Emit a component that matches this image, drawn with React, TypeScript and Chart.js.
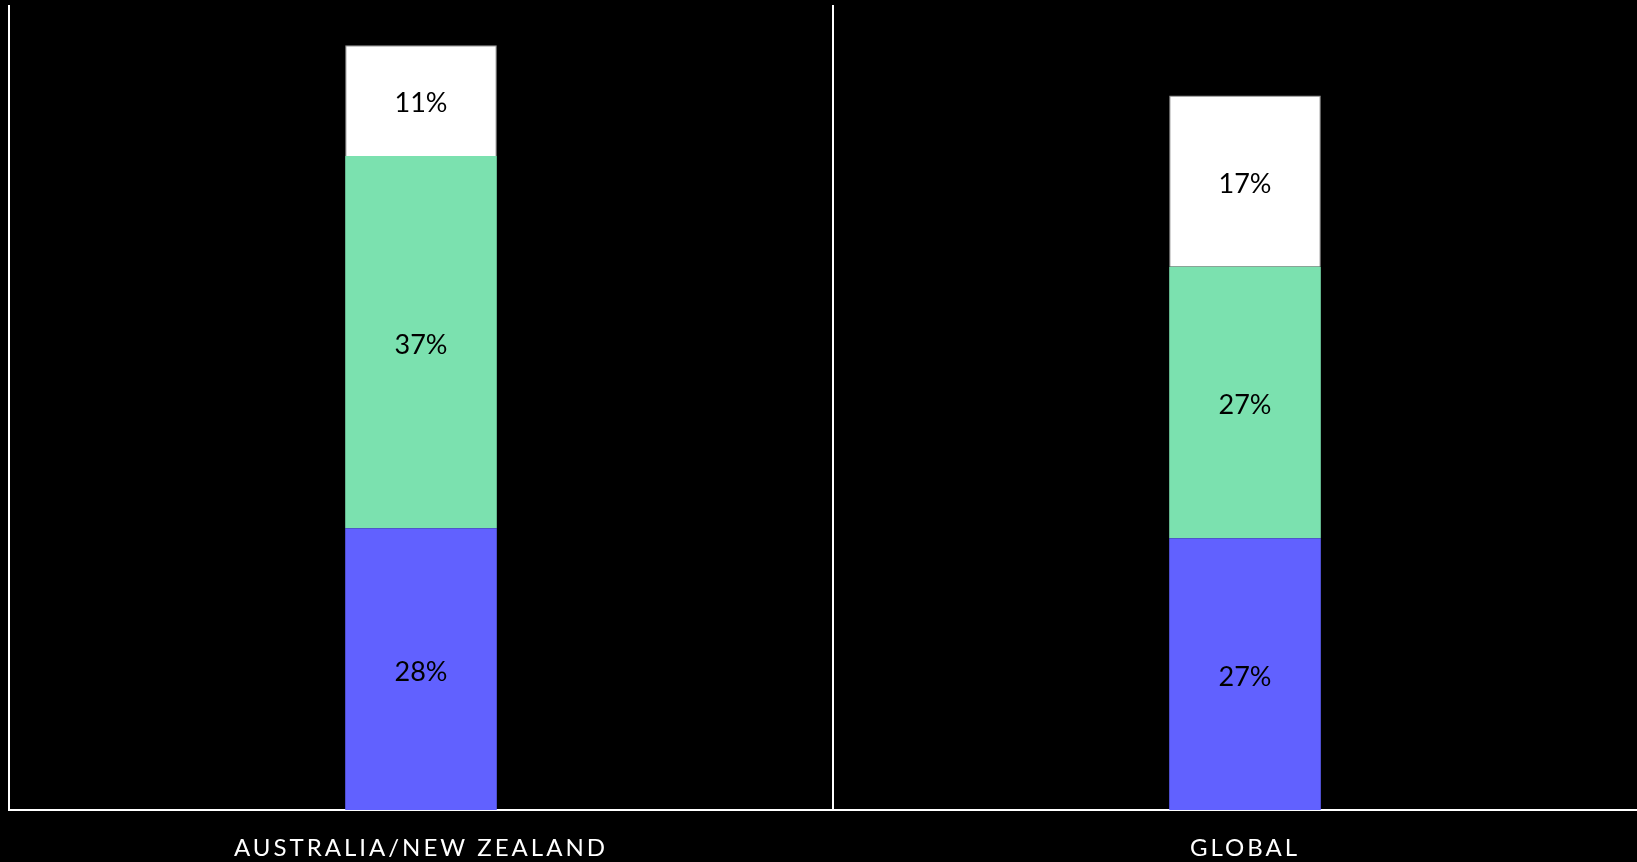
import React, { useEffect, useRef } from 'react';
import { Chart, registerables } from 'chart.js';

Chart.register(...registerables);

const categories = ['AUSTRALIA/NEW ZEALAND', 'GLOBAL'];
const bottomSeries = [28, 27];
const middleSeries = [37, 27];
const topSeries = [11, 17];
const seriesNames = ['Segment 1', 'Segment 2', 'Segment 3'];
const seriesColors = ['#6161FF', '#7BE1AF', '#FFFFFF'];
const yMax = 80;

const valueLabels = {
  id: 'valueLabels',
  afterDatasetsDraw(chart: any) {
    const ctx = chart.ctx;
    ctx.save();
    ctx.letterSpacing = '0px';
    ctx.font = '27px Lato';
    ctx.fillStyle = '#000000';
    ctx.textAlign = 'center';
    ctx.textBaseline = 'middle';
    chart.data.datasets.forEach((ds: any, i: number) => {
      const meta = chart.getDatasetMeta(i);
      meta.data.forEach((bar: any, j: number) => {
        const { x, y, base } = bar.getProps(['x', 'y', 'base'], true);
        ctx.fillText(ds.data[j] + '%', x, (y + base) / 2 + 3);
      });
    });
    ctx.restore();
  },
};

const tickSpacing = {
  id: 'tickSpacing',
  beforeDraw(chart: any) {
    chart.ctx.letterSpacing = '3px';
  },
  beforeDatasetsDraw(chart: any) {
    chart.ctx.letterSpacing = '0px';
  },
};

export default function App() {
  const ref = useRef<HTMLCanvasElement>(null);

  useEffect(() => {
    if (!ref.current) return;
    const chart = new Chart(ref.current, {
      type: 'bar',
      data: {
        labels: categories,
        datasets: [
          { label: seriesNames[0], data: bottomSeries, backgroundColor: seriesColors[0], borderWidth: 0 },
          { label: seriesNames[1], data: middleSeries, backgroundColor: seriesColors[1], borderWidth: 0 },
          { label: seriesNames[2], data: topSeries, backgroundColor: seriesColors[2], borderWidth: 1, borderColor: '#9a9a9a' },
        ],
      },
      options: {
        animation: false,
        responsive: false,
        maintainAspectRatio: false,
        devicePixelRatio: 1,
        datasets: { bar: { barPercentage: 0.184, categoryPercentage: 1 } },
        layout: { padding: { left: 9, top: 5, right: 0, bottom: 0 } },
        plugins: { legend: { display: false }, tooltip: { enabled: false } },
        scales: {
          x: {
            stacked: true,
            grid: { display: true, color: '#ffffff', lineWidth: 2, drawTicks: false, offset: true },
            border: { display: true, color: '#ffffff', width: 2 },
            ticks: { color: '#ffffff', font: { family: 'Lato', size: 24 }, padding: 24, maxRotation: 0 },
            afterFit: (scale: any) => {
              scale.height = 52;
            },
          },
          y: { stacked: true, display: false, min: 0, max: yMax },
        },
      },
      plugins: [tickSpacing, valueLabels],
    } as any);
    return () => chart.destroy();
  }, []);

  return (
    <div style={{ position: 'fixed', left: 0, top: 0, width: 1637, height: 862, overflow: 'hidden', background: '#000' }}>
      <canvas ref={ref} width={1657} height={862} style={{ display: 'block', width: 1657, height: 862 }} />
    </div>
  );
}
